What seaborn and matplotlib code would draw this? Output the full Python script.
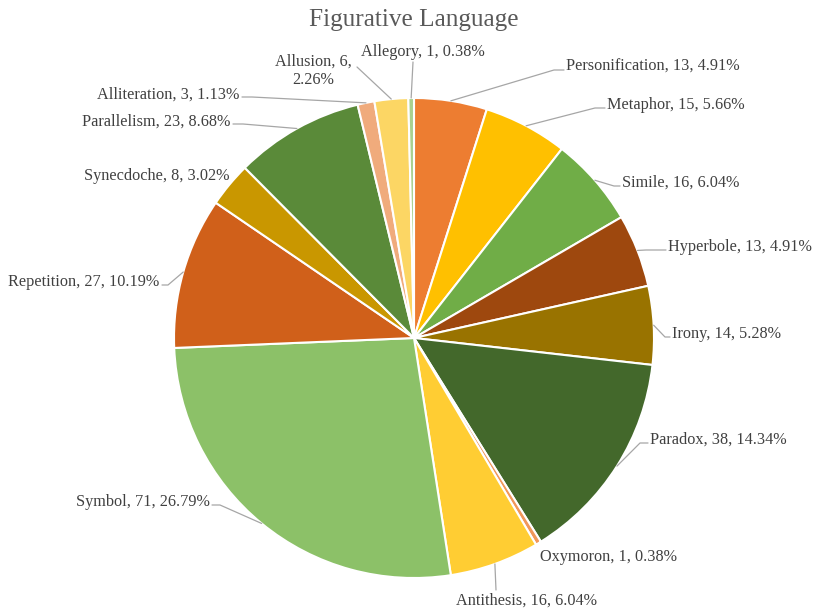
import numpy as np
import matplotlib
matplotlib.use("Agg")
import matplotlib.pyplot as plt
import seaborn as sns

categories = ["Personification", "Metaphor", "Simile", "Hyperbole", "Irony",
              "Paradox", "Oxymoron", "Antithesis", "Symbol", "Repetition",
              "Synecdoche", "Parallelism", "Alliteration", "Allusion", "Allegory"]
counts = [13, 15, 16, 13, 14, 38, 1, 16, 71, 27, 8, 23, 3, 6, 1]
percent_labels = ["4.91%", "5.66%", "6.04%", "4.91%", "5.28%", "14.34%", "0.38%",
                  "6.04%", "26.79%", "10.19%", "3.02%", "8.68%", "1.13%", "2.26%", "0.38%"]
colors = ["#ED7D31", "#FFC000", "#70AD47", "#9E480E", "#997300", "#43682B",
          "#F1975A", "#FFCD33", "#8CC168", "#D0601A", "#C99700", "#5A8A39",
          "#F0AB7C", "#FCD664", "#A9D18E"]

sns.set_theme(style="white")
plt.rcParams["font.family"] = ["Liberation Serif", "DejaVu Serif"]
palette = sns.color_palette(colors)

W, H = 813, 609
fig = plt.figure(figsize=(W / 100, H / 100), dpi=100)
ax = fig.add_axes([0, 0, 1, 1])

cx, cy, R = 414, H - 338, 240
wedges, _ = ax.pie(counts, colors=palette, startangle=90, counterclock=False,
                   center=(cx, cy), radius=R, frame=True,
                   wedgeprops=dict(edgecolor="white", linewidth=1.5))
ax.set_xlim(0, W)
ax.set_ylim(0, H)
ax.set_aspect("equal")
ax.axis("off")

# label layout: (x, y in image pixels, ha, leader anchor (x, y), elbow dx) or None
layout = [
    (566, 67, "left", (564, 70), -10),
    (607, 105, "left", (605, 108), -10),
    (622, 183, "left", (620, 186), -6),
    (668, 247, "left", (666, 250), -20),
    (672, 334, "left", (670, 337), -5),
    (650, 440, "left", (648, 443), -8),
    (540, 557, "left", None, 0),
    (526, 601, "center", (496, 590), 0),
    (210, 502, "right", (212, 505), 8),
    (159, 282, "right", (162, 285), 6),
    (229, 176, "right", None, 0),
    (230, 122, "right", (233, 124), 10),
    (239, 95, "right", (242, 97), 10),
    (313, 71, "center", (357, 67), 0),
    (423, 52, "center", (413, 62), 0),
]

txt_color = "#404040"
line_color = "#A6A6A6"
for i, (w, (lx, ly, ha, anchor, elbow)) in enumerate(zip(wedges, layout)):
    name = categories[i]
    if name == "Allusion":
        label = f"{name}, {counts[i]},\n{percent_labels[i]}"
    else:
        label = f"{name}, {counts[i]}, {percent_labels[i]}"
    ax.text(lx, H - ly, label, ha=ha, va="center", fontsize=11.7,
            color=txt_color, linespacing=1.2)
    if anchor is not None:
        mid = np.deg2rad((w.theta1 + w.theta2) / 2)
        ex, ey = cx + R * np.cos(mid), cy + R * np.sin(mid)
        xs = [anchor[0], anchor[0] + elbow, ex]
        ys = [H - anchor[1], H - anchor[1], ey]
        ax.plot(xs, ys, color=line_color, lw=0.9)

ax.text(414, H - 20, "Figurative Language", ha="center", va="center",
        fontsize=18.2, color="#595959")

fig.savefig("out.png", dpi=100, facecolor="white")
